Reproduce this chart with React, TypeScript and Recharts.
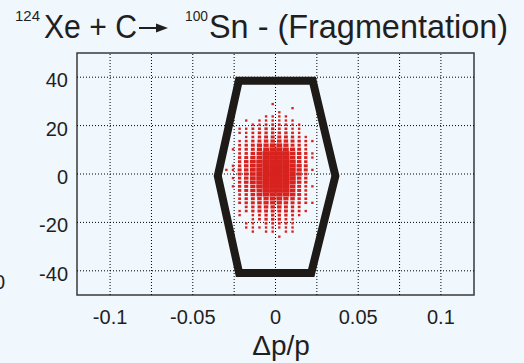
import { ScatterChart, Scatter, XAxis, YAxis, ReferenceLine, ReferenceArea } from 'recharts'

// columns / rows of the 2D histogram (dp/p, angle)
const COLS = [-0.0297, -0.0257, -0.0217, -0.0177, -0.0137, -0.0097, -0.0057, -0.0017, 0.0023, 0.0063, 0.0103, 0.0143, 0.0183, 0.0223]
const ROWS = [28.9, 27.2, 25.5, 23.8, 22.1, 20.4, 18.7, 17.0, 15.3, 13.6, 11.9, 10.2, 8.5, 6.8, 5.1, 3.4, 1.7, 0, -1.7, -3.4, -5.1, -6.8, -8.5, -10.2, -11.9, -13.6, -15.3, -17.0, -18.7, -20.4, -22.1, -23.8, -25.9]
// one string per row, one digit (0-9) per column = box size
const DENSITY = [
  '00000001000000',
  '00000000001000',
  '00000000100000',
  '00000011110000',
  '00010111111000',
  '00001122221100',
  '00112233221100',
  '00112333332100',
  '00012344443210',
  '00123455554321',
  '00234667764320',
  '01234678876420',
  '00235799997531',
  '00346799997531',
  '00357899998530',
  '01357899998640',
  '11457899998641',
  '00457899998630',
  '01357899998530',
  '00357899998530',
  '01346899997421',
  '00346799997420',
  '00235788887420',
  '00234567765320',
  '00234566654321',
  '00023455543200',
  '00123444443210',
  '00101233332100',
  '00001233321000',
  '00011022221000',
  '00011111111000',
  '00001011011000',
  '00000000100000',
]

// acceptance hexagon
const HEX_X = [0, 0.0225, 0.0362, 0.0216, -0.022, -0.0349, -0.0222, 0]
const HEX_Y = [38.5, 38.5, -0.8, -40.9, -40.9, -0.8, 38.5, 38.5]

const X_TICKS = [-0.1, -0.05, 0, 0.05, 0.1]
const X_GRID = [-0.1, -0.075, -0.05, -0.025, 0, 0.025, 0.05, 0.075, 0.1]
const Y_TICKS = [-40, -20, 0, 20, 40]

const X_MINOR: number[] = []
for (let i = -23; i <= 23; i++) X_MINOR.push(i * 0.005)
const Y_MINOR: number[] = []
for (let i = -9; i <= 9; i++) Y_MINOR.push(i * 5)

const hist: { x: number; y: number; w: number }[] = []
ROWS.forEach((y, r) => {
  COLS.forEach((x, c) => {
    const w = Number(DENSITY[r][c])
    if (w > 0) hist.push({ x, y, w })
  })
})
const hex = HEX_X.map((x, i) => ({ x, y: HEX_Y[i] }))

const BG = '#f0f7fd'
const RED = '#d8221e'
const INK = '#1f1f1f'
const FONT = '"Liberation Sans", Arial, sans-serif'

const BOX_W = [0, 2.4, 2.8, 3.3, 3.9, 4.5, 5.2, 5.8, 6.4, 7]
const BOX_H = [0, 2.3, 2.5, 2.8, 3.0, 3.2, 3.4, 3.7, 4.0, 4.6]

function Box(props: any) {
  const { cx, cy, payload } = props
  const w = BOX_W[payload.w]
  const h = BOX_H[payload.w]
  return <rect x={cx - w / 2} y={cy - h / 2} width={w} height={h} fill={RED} />
}

function XTick(props: any) {
  const { x, payload } = props
  return (
    <text x={x} y={323.5} textAnchor="middle" fontSize={20} fontFamily={FONT} fill={INK}>
      {String(payload.value)}
    </text>
  )
}

function YTick(props: any) {
  const { x, y, payload } = props
  return (
    <text x={x} y={y + 10} textAnchor="end" fontSize={20} fontFamily={FONT} fill={INK}>
      {String(payload.value)}
    </text>
  )
}

export default function App() {
  return (
    <div style={{ position: 'absolute', left: 0, top: 0, width: 524, height: 363, background: BG, overflow: 'hidden' }}>
      <ScatterChart width={524} height={363} margin={{ top: 53, right: 50, bottom: 28, left: 17 }}>
        <XAxis type="number" dataKey="x" domain={[-0.12, 0.12]} ticks={X_TICKS} allowDataOverflow
          axisLine={false} tickLine={false} tick={<XTick />} height={40} interval={0} />
        <YAxis type="number" dataKey="y" domain={[-50, 50]} ticks={Y_TICKS} allowDataOverflow
          axisLine={false} tickLine={false} tick={<YTick />} tickSize={0} tickMargin={9} width={60} interval={0} />
        <XAxis xAxisId="minor" type="number" dataKey="x" domain={[-0.12, 0.12]} ticks={X_MINOR} allowDataOverflow
          mirror axisLine={false} tick={false} tickSize={2} height={0} interval={0} tickLine={{ stroke: '#000', strokeWidth: 1.2 }} />
        <YAxis yAxisId="minor" type="number" dataKey="y" domain={[-50, 50]} ticks={Y_MINOR} allowDataOverflow
          mirror axisLine={false} tick={false} tickSize={2} width={0} interval={0} tickLine={{ stroke: '#000', strokeWidth: 1.2 }} />
        <YAxis yAxisId="major" type="number" dataKey="y" domain={[-50, 50]} ticks={Y_TICKS} allowDataOverflow
          mirror axisLine={false} tick={false} tickSize={5} width={0} interval={0} tickLine={{ stroke: '#333', strokeWidth: 1.5 }} />

        <Scatter data={hist} shape={<Box />} isAnimationActive={false} />

        {X_GRID.map(v => (
          <ReferenceLine key={'x' + v} x={v} stroke="#000" strokeWidth={1} strokeDasharray="1 2" />
        ))}
        {Y_TICKS.map(v => (
          <ReferenceLine key={'y' + v} y={v} stroke="#000" strokeWidth={1} strokeDasharray="1 2" />
        ))}

        <Scatter data={hex} shape={() => <g />} isAnimationActive={false} fill={INK}
          line={{ stroke: '#1d1a17', strokeWidth: 8, strokeLinejoin: 'miter' }} lineJointType="linear" />

        <ReferenceArea x1={-0.12} x2={0.12} y1={-50} y2={50} fill="none" stroke="#3a3a3a" strokeWidth={1.5} ifOverflow="visible" />
      </ScatterChart>

      <svg width={524} height={363} style={{ position: 'absolute', left: 0, top: 0, pointerEvents: 'none' }}>
        <g fontFamily={FONT} fill={INK}>
          <text x={15} y={21} fontSize={15} textLength={25} lengthAdjust="spacingAndGlyphs">124</text>
          <text x={44} y={38} fontSize={34} textLength={93} lengthAdjust="spacingAndGlyphs">Xe + C</text>
          <line x1={139} y1={28} x2={158} y2={28} stroke={INK} strokeWidth={2} />
          <polygon points="156,23.5 168,28 156,32.5" fill={INK} />
          <text x={185} y={21} fontSize={15} textLength={23} lengthAdjust="spacingAndGlyphs">100</text>
          <text x={209} y={38} fontSize={34} textLength={299} lengthAdjust="spacingAndGlyphs">Sn - (Fragmentation)</text>
          <text x={281} y={355} fontSize={28} textAnchor="middle">Δp/p</text>
          <text x={-6} y={289} fontSize={20}>0</text>
        </g>
      </svg>
    </div>
  )
}
